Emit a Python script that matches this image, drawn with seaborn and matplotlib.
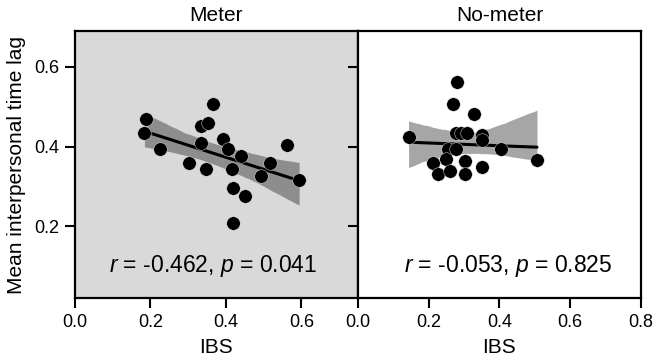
import matplotlib
matplotlib.use("Agg")
import matplotlib.pyplot as plt
import numpy as np
import seaborn as sns

# data (IBS vs mean interpersonal time lag)
meter_ibs = [0.187, 0.184, 0.226, 0.301, 0.334, 0.352, 0.367, 0.334, 0.346, 0.392,
             0.405, 0.440, 0.416, 0.418, 0.451, 0.420, 0.493, 0.517, 0.561, 0.594]
meter_lag = [0.468, 0.433, 0.393, 0.359, 0.451, 0.460, 0.506, 0.410, 0.343, 0.420,
             0.393, 0.377, 0.343, 0.296, 0.276, 0.209, 0.326, 0.359, 0.404, 0.316]

nometer_ibs = [0.280, 0.270, 0.327, 0.276, 0.292, 0.309, 0.351, 0.351, 0.143, 0.254,
               0.278, 0.403, 0.506, 0.248, 0.303, 0.211, 0.226, 0.261, 0.303, 0.351]
nometer_lag = [0.562, 0.508, 0.481, 0.435, 0.435, 0.435, 0.429, 0.416, 0.424, 0.395,
               0.395, 0.393, 0.366, 0.368, 0.364, 0.358, 0.332, 0.338, 0.331, 0.348]

panel_titles = ["Meter", "No-meter"]
stat_texts = [r"$\it{r}$ = -0.462, $\it{p}$ = 0.041",
              r"$\it{r}$ = -0.053, $\it{p}$ = 0.825"]
y_ticks = [0.2, 0.4, 0.6]

sns.set_style("ticks")
plt.rcParams["font.family"] = ["Liberation Sans", "DejaVu Sans"]
plt.rcParams["mathtext.fontset"] = "custom"
plt.rcParams["mathtext.rm"] = "Liberation Sans"
plt.rcParams["mathtext.it"] = "Liberation Sans:italic"
plt.rcParams["text.color"] = "black"
plt.rcParams["axes.labelcolor"] = "black"

fig = plt.figure(figsize=(6.56, 3.58), dpi=100)
ax1 = fig.add_axes([0.1143, 0.1676, 0.4314, 0.7458])
ax2 = fig.add_axes([0.5457, 0.1676, 0.4314, 0.7458])

panels = [(ax1, meter_ibs, meter_lag, "#d9d9d9", (0, 0.75), [0, 0.2, 0.4, 0.6], 0.489),
          (ax2, nometer_ibs, nometer_lag, "white", (0, 0.8), [0, 0.2, 0.4, 0.6, 0.8], 0.531)]

for i, (ax, xs, ys, bg, xlim, xticks, tx) in enumerate(panels):
    ax.set_facecolor(bg)
    sns.regplot(x=xs, y=ys, ax=ax, scatter=False, ci=95, seed=0, truncate=True,
                color="black", line_kws=dict(lw=2.2, zorder=2))
    ax.collections[-1].set_alpha(0.35)
    ax.collections[-1].set_linewidth(0)
    sns.scatterplot(x=xs, y=ys, ax=ax, color="black", s=95,
                    edgecolor="#f0f0f0", linewidth=0.3, zorder=3)
    ax.set_xlim(*xlim)
    ax.set_ylim(0.02, 0.69)
    ax.set_xticks(xticks)
    ax.set_xticklabels([f"{v:.1f}" for v in xticks])
    ax.set_yticks(y_ticks)
    ax.set_title(panel_titles[i], fontsize=15, pad=7.5, color="black")
    ax.set_xlabel("IBS", fontsize=15, labelpad=5, color="black")
    ax.text(tx, 0.12, stat_texts[i], transform=ax.transAxes, ha="center",
            va="center", fontsize=16.5, color="black")
    for sp in ax.spines.values():
        sp.set_visible(True)
        sp.set_linewidth(1.6)
        sp.set_color("black")
    ax.tick_params(axis="both", direction="out", length=7, width=1.5,
                   labelsize=13, pad=4.5, colors="black")

ax1.set_yticklabels([f"{v:.1f}" for v in y_ticks])
ax1.set_ylabel("Mean interpersonal time lag", fontsize=15, labelpad=6, color="black")
ax2.set_yticklabels([])

fig.savefig("out.png", dpi=100)
